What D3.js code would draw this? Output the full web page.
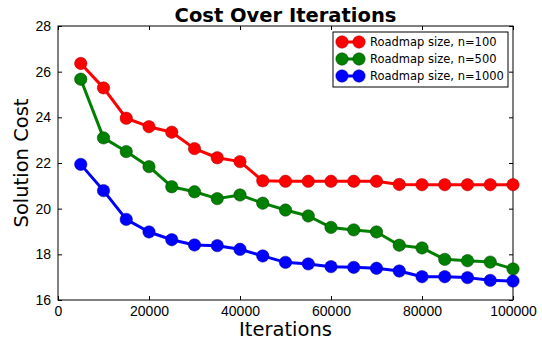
<!DOCTYPE html>
<html>
<head>
<meta charset="utf-8">
<script src="https://cdnjs.cloudflare.com/ajax/libs/d3/7.8.5/d3.min.js"></script>
<style>
  body { margin: 0; background: #fff; }
  svg { display: block; font-family: "DejaVu Sans", sans-serif; }
</style>
</head>
<body>
<svg id="chart" width="542" height="341"></svg>
<script>
// Iteration counts sampled
const iterations = [5000, 10000, 15000, 20000, 25000, 30000, 35000, 40000, 45000, 50000,
                    55000, 60000, 65000, 70000, 75000, 80000, 85000, 90000, 95000, 100000];

// Solution cost per roadmap size
const costN100 = [26.36, 25.29, 23.96, 23.59, 23.35, 22.63, 22.23, 22.06, 21.22, 21.2,
                  21.2, 21.2, 21.2, 21.2, 21.06, 21.05, 21.05, 21.05, 21.05, 21.05];
const costN500 = [25.67, 23.1, 22.5, 21.84, 20.96, 20.74, 20.44, 20.6, 20.24, 19.94,
                  19.68, 19.18, 19.07, 18.98, 18.4, 18.28, 17.78, 17.72, 17.66, 17.36];
const costN1000 = [21.94, 20.79, 19.53, 18.98, 18.64, 18.41, 18.38, 18.22, 17.93, 17.65,
                   17.58, 17.46, 17.43, 17.39, 17.27, 17.02, 17.02, 16.98, 16.86, 16.83];

const seriesNames = ["Roadmap size, n=100", "Roadmap size, n=500", "Roadmap size, n=1000"];
const seriesColors = ["#ff0000", "#008000", "#0000ff"];
const seriesEdges = ["#a00000", "#004000", "#000090"];

const xTicks = [0, 20000, 40000, 60000, 80000, 100000];
const yTicks = [16, 18, 20, 22, 24, 26, 28];

const series = [costN100, costN500, costN1000].map((vals, i) => ({
  name: seriesNames[i],
  color: seriesColors[i],
  edge: seriesEdges[i],
  points: iterations.map((it, j) => ({ x: it, y: vals[j] }))
}));

const svg = d3.select("#chart");
const margin = { left: 58, right: 29, top: 26, bottom: 41 };
const W = 542, H = 341;
const x = d3.scaleLinear().domain([0, 100000]).range([margin.left, W - margin.right]);
const y = d3.scaleLinear().domain([16, 28]).range([H - margin.bottom, margin.top]);

// Axes with inward ticks on all four sides
const tickLen = 4;
svg.append("g")
  .attr("transform", `translate(0,${y.range()[0]})`)
  .call(d3.axisBottom(x).tickValues(xTicks).tickFormat(d3.format("d")).tickSizeInner(-tickLen).tickSizeOuter(0).tickPadding(6))
  .call(g => g.selectAll("text").attr("font-size", 14).attr("fill", "#000"));
svg.append("g")
  .attr("transform", `translate(0,${y.range()[1]})`)
  .call(d3.axisTop(x).tickValues(xTicks).tickFormat("").tickSizeInner(-tickLen).tickSizeOuter(0));
svg.append("g")
  .attr("transform", `translate(${x.range()[0]},0)`)
  .call(d3.axisLeft(y).tickValues(yTicks).tickFormat(d3.format("d")).tickSizeInner(-tickLen).tickSizeOuter(0).tickPadding(7))
  .call(g => g.selectAll("text").attr("font-size", 14).attr("fill", "#000"));
svg.append("g")
  .attr("transform", `translate(${x.range()[1]},0)`)
  .call(d3.axisRight(y).tickValues(yTicks).tickFormat("").tickSizeInner(-tickLen).tickSizeOuter(0));
svg.selectAll(".domain").remove();
svg.selectAll(".tick line").attr("stroke", "#000");

// Plot frame
svg.append("rect")
  .attr("x", x.range()[0]).attr("y", y.range()[1])
  .attr("width", x.range()[1] - x.range()[0])
  .attr("height", y.range()[0] - y.range()[1])
  .attr("fill", "none").attr("stroke", "#000").attr("stroke-width", 1);

// Lines and markers
const line = d3.line().x(d => x(d.x)).y(d => y(d.y));
const plot = svg.append("g");
series.forEach(s => {
  plot.append("path")
    .datum(s.points)
    .attr("d", line)
    .attr("fill", "none")
    .attr("stroke", s.color)
    .attr("stroke-width", 3)
    .attr("stroke-linejoin", "round");
  plot.selectAll(null)
    .data(s.points)
    .enter().append("circle")
    .attr("cx", d => x(d.x))
    .attr("cy", d => y(d.y))
    .attr("r", 6.2)
    .attr("fill", s.color)
    .attr("stroke", s.edge)
    .attr("stroke-width", 0.5);
});

// Title and axis labels
svg.append("text")
  .attr("x", (x.range()[0] + x.range()[1]) / 2).attr("y", 22)
  .attr("text-anchor", "middle").attr("font-size", 19.5).attr("font-weight", "bold")
  .text("Cost Over Iterations");
svg.append("text")
  .attr("x", (x.range()[0] + x.range()[1]) / 2).attr("y", 336)
  .attr("text-anchor", "middle").attr("font-size", 19.5)
  .text("Iterations");
svg.append("text")
  .attr("transform", `translate(28,${(y.range()[0] + y.range()[1]) / 2}) rotate(-90)`)
  .attr("text-anchor", "middle").attr("font-size", 19.5)
  .text("Solution Cost");

// Legend
const legend = svg.append("g").attr("transform", "translate(333,32)");
legend.append("rect")
  .attr("width", 175).attr("height", 55)
  .attr("fill", "#fff").attr("stroke", "#000").attr("stroke-width", 1);
series.forEach((s, i) => {
  const ly = 10 + i * 17;
  const g = legend.append("g").attr("transform", `translate(0,${ly})`);
  g.append("line").attr("x1", 9).attr("x2", 26).attr("y1", 0).attr("y2", 0)
    .attr("stroke", s.color).attr("stroke-width", 3);
  [9, 26].forEach(cx => g.append("circle").attr("cx", cx).attr("cy", 0).attr("r", 6.2)
    .attr("fill", s.color).attr("stroke", s.edge).attr("stroke-width", 0.5));
  g.append("text").attr("x", 37).attr("y", 4.2).attr("font-size", 11.5).text(s.name);
});
</script>
</body>
</html>
